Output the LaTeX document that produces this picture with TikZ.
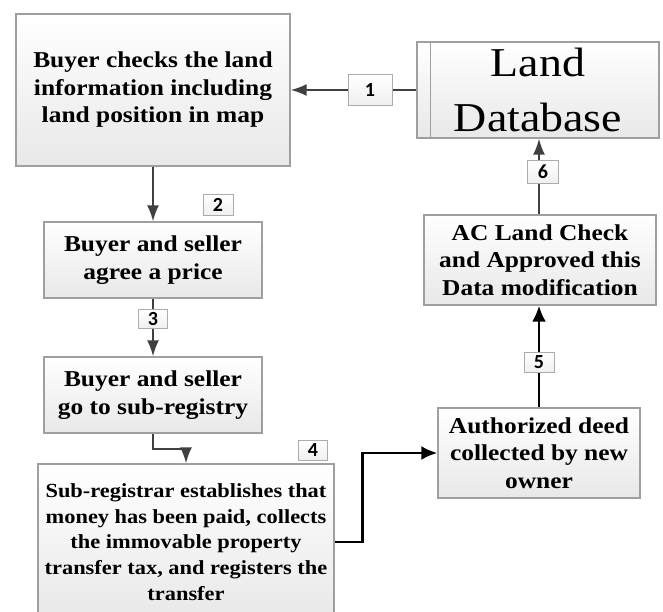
\documentclass[tikz,border=0pt]{standalone}
\usepackage{fontspec}
\setmainfont{Liberation Serif}[FakeStretch=1.12]
\newfontfamily\numfont{Carlito}
\usetikzlibrary{arrows.meta,shadings}
\begin{document}
\begin{tikzpicture}[x=1pt,y=-1pt,
  box/.style={draw=gray!75, line width=1.4pt, top color=white, bottom color=gray!18,
    align=center, font=\fontsize{22.7}{27.5}\selectfont\bfseries, text=black, inner sep=0pt},
  num/.style={draw=gray!65, line width=1pt, top color=white, bottom color=gray!12,
    font=\numfont\bfseries\fontsize{20}{20}\selectfont, text=black, inner sep=0pt,
    minimum width=30pt, minimum height=21pt},
  conn/.style={draw=black!75, line width=1.8pt},
  thk/.style={draw=black, line width=2.6pt},
  tipa/.style={-{Latex[length=16pt,width=12pt]}},
  tipb/.style={-{Latex[length=16pt,width=14pt]}}
]
\clip (0,0) rectangle (663,612);
\fill[white] (0,0) rectangle (663,612);
% boxes
\node[box, minimum width=274pt, minimum height=152pt] (A) at (153,90)
  {Buyer checks the land\\information including\\land position in map};
\node[box, font=\fontsize{41}{55}\selectfont, minimum width=242pt, minimum height=96pt] (DB) at (538,90)
  {Land\\Database};
\draw[gray!75, line width=1.2pt] ([xshift=14pt]DB.north west) -- ([xshift=14pt]DB.south west);
\node[box, minimum width=218pt, minimum height=76pt] (B) at (153,260)
  {Buyer and seller\\agree a price};
\node[box, minimum width=218pt, minimum height=76pt] (C) at (153,395)
  {Buyer and seller\\go to sub-registry};
\node[box, font=\fontsize{20}{25.7}\selectfont\bfseries, minimum width=296pt, minimum height=156pt] (D) at (186,542)
  {Sub-registrar establishes that\\money has been paid, collects\\the immovable property\\transfer tax, and registers the\\transfer};
\node[box, minimum width=232pt, minimum height=90pt] (AC) at (540,260)
  {AC Land Check\\and Approved this\\Data modification};
\node[box, minimum width=202pt, minimum height=90pt] (Au) at (539,453)
  {Authorized deed\\collected by new\\owner};
% connectors
\draw[conn, tipa] (DB.west) -- (A.east);
\node[num, minimum width=44pt, minimum height=31pt] (n1) at (370,90) {1};
\draw[conn, tipa] (A.south) -- (B.north);
\node[num] (n2) at (218,205) {2};
\draw[conn, tipa] (B.south) -- (C.north);
\node[num, minimum width=29pt, minimum height=19pt] (n3) at (153,319) {3};
\draw[conn, tipa] (C.south) -- ++(0,15) -| (D.north);
\node[num, minimum width=29pt, minimum height=20pt] (n4) at (313,450) {4};
\draw[thk, tipb] (D.east) -- ++(28,0) |- (Au.west);
\draw[thk, tipb] (Au.north) -- (Au.north |- AC.south);
\node[num, minimum width=30pt, minimum height=20pt] (n5) at (539,362) {5};
\draw[conn, tipa] (AC.north -| Au.north) -- (Au.north |- DB.south);
\node[num, minimum width=31pt, minimum height=23pt] (n6) at (543,172) {6};
\end{tikzpicture}
\end{document}
